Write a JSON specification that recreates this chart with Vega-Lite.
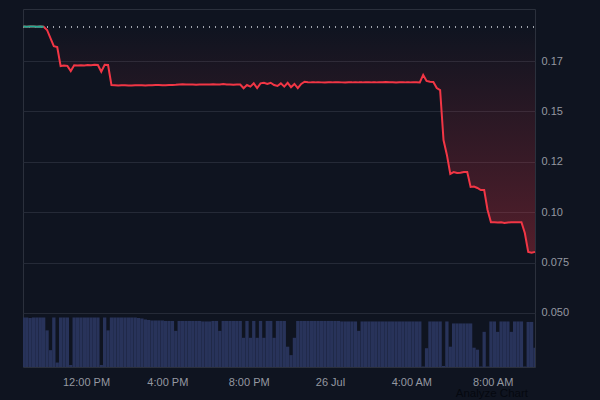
{
  "$schema": "https://vega.github.io/schema/vega-lite/v6.json",
  "autosize": {"type": "none"},
  "width": 512,
  "height": 358,
  "padding": {"left": 23, "top": 9, "right": 65, "bottom": 33},
  "background": "#0f1420",
  "title": {
    "text": "Analyze Chart",
    "orient": "bottom",
    "anchor": "end",
    "frame": "group",
    "offset": 1,
    "dx": -7,
    "fontSize": 11.5,
    "fontWeight": "normal",
    "font": "Liberation Sans",
    "color": "#05080f"
  },
  "config": {
    "view": {"stroke": "#2b303c"},
    "axis": {
      "labelFont": "Liberation Sans",
      "labelFontSize": 11,
      "labelColor": "#9598a1",
      "domain": false,
      "ticks": false,
      "title": null
    }
  },
  "data": {
    "values": [
      {"t": "2024-07-25T08:55Z", "p": 0.1921, "v": 100},
      {"t": "2024-07-25T09:05Z", "p": 0.1920, "v": 100},
      {"t": "2024-07-25T09:15Z", "p": 0.1921, "v": 99},
      {"t": "2024-07-25T09:25Z", "p": 0.1921, "v": 100},
      {"t": "2024-07-25T09:35Z", "p": 0.1920, "v": 100},
      {"t": "2024-07-25T09:45Z", "p": 0.1921, "v": 100},
      {"t": "2024-07-25T09:55Z", "p": 0.1920, "v": 100},
      {"t": "2024-07-25T10:05Z", "p": 0.1904, "v": 74},
      {"t": "2024-07-25T10:15Z", "p": 0.1864, "v": 34},
      {"t": "2024-07-25T10:25Z", "p": 0.1824, "v": 100},
      {"t": "2024-07-25T10:35Z", "p": 0.1819, "v": 9},
      {"t": "2024-07-25T10:45Z", "p": 0.1725, "v": 100},
      {"t": "2024-07-25T10:55Z", "p": 0.1728, "v": 100},
      {"t": "2024-07-25T11:05Z", "p": 0.1726, "v": 100},
      {"t": "2024-07-25T11:15Z", "p": 0.1700, "v": 4},
      {"t": "2024-07-25T11:25Z", "p": 0.1729, "v": 100},
      {"t": "2024-07-25T11:35Z", "p": 0.1728, "v": 100},
      {"t": "2024-07-25T11:45Z", "p": 0.1729, "v": 100},
      {"t": "2024-07-25T11:55Z", "p": 0.1728, "v": 100},
      {"t": "2024-07-25T12:05Z", "p": 0.1730, "v": 100},
      {"t": "2024-07-25T12:15Z", "p": 0.1729, "v": 100},
      {"t": "2024-07-25T12:25Z", "p": 0.1731, "v": 100},
      {"t": "2024-07-25T12:35Z", "p": 0.1730, "v": 100},
      {"t": "2024-07-25T12:45Z", "p": 0.1697, "v": 4},
      {"t": "2024-07-25T12:55Z", "p": 0.1731, "v": 100},
      {"t": "2024-07-25T13:05Z", "p": 0.1730, "v": 74},
      {"t": "2024-07-25T13:15Z", "p": 0.1631, "v": 100},
      {"t": "2024-07-25T13:25Z", "p": 0.1630, "v": 100},
      {"t": "2024-07-25T13:35Z", "p": 0.1629, "v": 100},
      {"t": "2024-07-25T13:45Z", "p": 0.1630, "v": 100},
      {"t": "2024-07-25T13:55Z", "p": 0.1630, "v": 100},
      {"t": "2024-07-25T14:05Z", "p": 0.1629, "v": 100},
      {"t": "2024-07-25T14:15Z", "p": 0.1629, "v": 100},
      {"t": "2024-07-25T14:25Z", "p": 0.1630, "v": 100},
      {"t": "2024-07-25T14:35Z", "p": 0.1630, "v": 99},
      {"t": "2024-07-25T14:45Z", "p": 0.1630, "v": 98},
      {"t": "2024-07-25T14:55Z", "p": 0.1629, "v": 96},
      {"t": "2024-07-25T15:05Z", "p": 0.1630, "v": 95},
      {"t": "2024-07-25T15:15Z", "p": 0.1630, "v": 94},
      {"t": "2024-07-25T15:25Z", "p": 0.1631, "v": 94},
      {"t": "2024-07-25T15:35Z", "p": 0.1631, "v": 94},
      {"t": "2024-07-25T15:45Z", "p": 0.1630, "v": 94},
      {"t": "2024-07-25T15:55Z", "p": 0.1630, "v": 93},
      {"t": "2024-07-25T16:05Z", "p": 0.1631, "v": 93},
      {"t": "2024-07-25T16:15Z", "p": 0.1631, "v": 93},
      {"t": "2024-07-25T16:25Z", "p": 0.1632, "v": 73},
      {"t": "2024-07-25T16:35Z", "p": 0.1634, "v": 93},
      {"t": "2024-07-25T16:45Z", "p": 0.1635, "v": 93},
      {"t": "2024-07-25T16:55Z", "p": 0.1634, "v": 93},
      {"t": "2024-07-25T17:05Z", "p": 0.1633, "v": 93},
      {"t": "2024-07-25T17:15Z", "p": 0.1633, "v": 93},
      {"t": "2024-07-25T17:25Z", "p": 0.1632, "v": 93},
      {"t": "2024-07-25T17:35Z", "p": 0.1633, "v": 93},
      {"t": "2024-07-25T17:45Z", "p": 0.1634, "v": 92},
      {"t": "2024-07-25T17:55Z", "p": 0.1633, "v": 92},
      {"t": "2024-07-25T18:05Z", "p": 0.1634, "v": 92},
      {"t": "2024-07-25T18:15Z", "p": 0.1635, "v": 93},
      {"t": "2024-07-25T18:25Z", "p": 0.1634, "v": 93},
      {"t": "2024-07-25T18:35Z", "p": 0.1634, "v": 73},
      {"t": "2024-07-25T18:45Z", "p": 0.1636, "v": 93},
      {"t": "2024-07-25T18:55Z", "p": 0.1634, "v": 93},
      {"t": "2024-07-25T19:05Z", "p": 0.1633, "v": 93},
      {"t": "2024-07-25T19:15Z", "p": 0.1632, "v": 93},
      {"t": "2024-07-25T19:25Z", "p": 0.1634, "v": 93},
      {"t": "2024-07-25T19:35Z", "p": 0.1633, "v": 93},
      {"t": "2024-07-25T19:45Z", "p": 0.1615, "v": 59},
      {"t": "2024-07-25T19:55Z", "p": 0.1631, "v": 93},
      {"t": "2024-07-25T20:05Z", "p": 0.1623, "v": 59},
      {"t": "2024-07-25T20:15Z", "p": 0.1639, "v": 93},
      {"t": "2024-07-25T20:25Z", "p": 0.1616, "v": 59},
      {"t": "2024-07-25T20:35Z", "p": 0.1639, "v": 93},
      {"t": "2024-07-25T20:45Z", "p": 0.1642, "v": 59},
      {"t": "2024-07-25T20:55Z", "p": 0.1636, "v": 93},
      {"t": "2024-07-25T21:05Z", "p": 0.1642, "v": 93},
      {"t": "2024-07-25T21:15Z", "p": 0.1631, "v": 59},
      {"t": "2024-07-25T21:25Z", "p": 0.1626, "v": 93},
      {"t": "2024-07-25T21:35Z", "p": 0.1639, "v": 93},
      {"t": "2024-07-25T21:45Z", "p": 0.1623, "v": 93},
      {"t": "2024-07-25T21:55Z", "p": 0.1642, "v": 41},
      {"t": "2024-07-25T22:05Z", "p": 0.1620, "v": 24},
      {"t": "2024-07-25T22:15Z", "p": 0.1636, "v": 59},
      {"t": "2024-07-25T22:25Z", "p": 0.1615, "v": 93},
      {"t": "2024-07-25T22:35Z", "p": 0.1636, "v": 93},
      {"t": "2024-07-25T22:45Z", "p": 0.1647, "v": 93},
      {"t": "2024-07-25T22:55Z", "p": 0.1645, "v": 93},
      {"t": "2024-07-25T23:05Z", "p": 0.1644, "v": 93},
      {"t": "2024-07-25T23:15Z", "p": 0.1644, "v": 93},
      {"t": "2024-07-25T23:25Z", "p": 0.1645, "v": 93},
      {"t": "2024-07-25T23:35Z", "p": 0.1644, "v": 93},
      {"t": "2024-07-25T23:45Z", "p": 0.1643, "v": 93},
      {"t": "2024-07-25T23:55Z", "p": 0.1644, "v": 93},
      {"t": "2024-07-26T00:05Z", "p": 0.1644, "v": 93},
      {"t": "2024-07-26T00:15Z", "p": 0.1645, "v": 93},
      {"t": "2024-07-26T00:25Z", "p": 0.1645, "v": 93},
      {"t": "2024-07-26T00:35Z", "p": 0.1644, "v": 92},
      {"t": "2024-07-26T00:45Z", "p": 0.1643, "v": 92},
      {"t": "2024-07-26T00:55Z", "p": 0.1644, "v": 92},
      {"t": "2024-07-26T01:05Z", "p": 0.1644, "v": 92},
      {"t": "2024-07-26T01:15Z", "p": 0.1645, "v": 92},
      {"t": "2024-07-26T01:25Z", "p": 0.1644, "v": 73},
      {"t": "2024-07-26T01:35Z", "p": 0.1644, "v": 92},
      {"t": "2024-07-26T01:45Z", "p": 0.1645, "v": 92},
      {"t": "2024-07-26T01:55Z", "p": 0.1645, "v": 92},
      {"t": "2024-07-26T02:05Z", "p": 0.1644, "v": 92},
      {"t": "2024-07-26T02:15Z", "p": 0.1644, "v": 92},
      {"t": "2024-07-26T02:25Z", "p": 0.1645, "v": 92},
      {"t": "2024-07-26T02:35Z", "p": 0.1645, "v": 92},
      {"t": "2024-07-26T02:45Z", "p": 0.1646, "v": 92},
      {"t": "2024-07-26T02:55Z", "p": 0.1645, "v": 92},
      {"t": "2024-07-26T03:05Z", "p": 0.1645, "v": 92},
      {"t": "2024-07-26T03:15Z", "p": 0.1644, "v": 92},
      {"t": "2024-07-26T03:25Z", "p": 0.1645, "v": 92},
      {"t": "2024-07-26T03:35Z", "p": 0.1645, "v": 92},
      {"t": "2024-07-26T03:45Z", "p": 0.1644, "v": 92},
      {"t": "2024-07-26T03:55Z", "p": 0.1644, "v": 92},
      {"t": "2024-07-26T04:05Z", "p": 0.1645, "v": 92},
      {"t": "2024-07-26T04:15Z", "p": 0.1645, "v": 92},
      {"t": "2024-07-26T04:25Z", "p": 0.1644, "v": 92},
      {"t": "2024-07-26T04:35Z", "p": 0.1681, "v": 1},
      {"t": "2024-07-26T04:45Z", "p": 0.1651, "v": 38},
      {"t": "2024-07-26T04:55Z", "p": 0.1647, "v": 92},
      {"t": "2024-07-26T05:05Z", "p": 0.1646, "v": 92},
      {"t": "2024-07-26T05:15Z", "p": 0.1616, "v": 92},
      {"t": "2024-07-26T05:25Z", "p": 0.1606, "v": 92},
      {"t": "2024-07-26T05:35Z", "p": 0.1358, "v": 2},
      {"t": "2024-07-26T05:45Z", "p": 0.1284, "v": 92},
      {"t": "2024-07-26T05:55Z", "p": 0.1190, "v": 41},
      {"t": "2024-07-26T06:05Z", "p": 0.1199, "v": 88},
      {"t": "2024-07-26T06:15Z", "p": 0.1194, "v": 88},
      {"t": "2024-07-26T06:25Z", "p": 0.1196, "v": 88},
      {"t": "2024-07-26T06:35Z", "p": 0.1199, "v": 88},
      {"t": "2024-07-26T06:45Z", "p": 0.1199, "v": 88},
      {"t": "2024-07-26T06:55Z", "p": 0.1125, "v": 88},
      {"t": "2024-07-26T07:05Z", "p": 0.1127, "v": 39},
      {"t": "2024-07-26T07:15Z", "p": 0.1120, "v": 35},
      {"t": "2024-07-26T07:25Z", "p": 0.1110, "v": 1},
      {"t": "2024-07-26T07:35Z", "p": 0.1110, "v": 71},
      {"t": "2024-07-26T07:45Z", "p": 0.1011, "v": 1},
      {"t": "2024-07-26T07:55Z", "p": 0.0950, "v": 92},
      {"t": "2024-07-26T08:05Z", "p": 0.0950, "v": 92},
      {"t": "2024-07-26T08:15Z", "p": 0.0949, "v": 71},
      {"t": "2024-07-26T08:25Z", "p": 0.0950, "v": 92},
      {"t": "2024-07-26T08:35Z", "p": 0.0946, "v": 92},
      {"t": "2024-07-26T08:45Z", "p": 0.0949, "v": 92},
      {"t": "2024-07-26T08:55Z", "p": 0.0950, "v": 71},
      {"t": "2024-07-26T09:05Z", "p": 0.0950, "v": 92},
      {"t": "2024-07-26T09:15Z", "p": 0.0950, "v": 92},
      {"t": "2024-07-26T09:25Z", "p": 0.0950, "v": 92},
      {"t": "2024-07-26T09:35Z", "p": 0.0897, "v": 1},
      {"t": "2024-07-26T09:45Z", "p": 0.0803, "v": 91},
      {"t": "2024-07-26T09:55Z", "p": 0.0799, "v": 91},
      {"t": "2024-07-26T10:05Z", "p": 0.0803, "v": 39}
    ]
  },
  "encoding": {
    "x": {
      "field": "t",
      "type": "temporal",
      "scale": {
        "type": "utc",
        "nice": false,
        "padding": 0,
        "domain": [
          {"year": 2024, "month": 7, "date": 25, "hours": 8, "minutes": 54, "utc": true},
          {"year": 2024, "month": 7, "date": 26, "hours": 10, "minutes": 5, "utc": true}
        ]
      },
      "axis": {
        "grid": false,
        "labelPadding": 9,
        "values": [
          {"year": 2024, "month": 7, "date": 25, "hours": 12, "utc": true},
          {"year": 2024, "month": 7, "date": 25, "hours": 16, "utc": true},
          {"year": 2024, "month": 7, "date": 25, "hours": 20, "utc": true},
          {"year": 2024, "month": 7, "date": 26, "hours": 0, "utc": true},
          {"year": 2024, "month": 7, "date": 26, "hours": 4, "utc": true},
          {"year": 2024, "month": 7, "date": 26, "hours": 8, "utc": true}
        ],
        "labelExpr": "utchours(datum.value) == 0 ? utcFormat(datum.value, '%-d %b') : utcFormat(datum.value, '%-I:%M %p')"
      }
    }
  },
  "layer": [
    {
      "mark": {"type": "bar", "width": 3.3, "color": "#28335a", "clip": true},
      "encoding": {
        "y": {"field": "v", "type": "quantitative", "scale": {"domain": [0, 723]}, "axis": null}
      }
    },
    {
      "encoding": {
        "y": {
          "field": "p",
          "type": "quantitative",
          "scale": {"domain": [0.0232, 0.2008], "nice": false, "zero": false},
          "axis": {
            "orient": "right",
            "grid": true,
            "gridColor": "#252a37",
            "labelPadding": 6,
            "labelAlign": "left",
            "values": [0.05, 0.075, 0.1, 0.125, 0.15, 0.175],
            "labelExpr": "datum.value < 0.06 ? '0.050' : datum.value < 0.08 ? '0.075' : datum.value < 0.11 ? '0.10' : datum.value < 0.13 ? '0.12' : datum.value < 0.16 ? '0.15' : '0.17'"
          }
        }
      },
      "layer": [
        {
          "mark": {
            "type": "area",
            "color": {
              "gradient": "linear",
              "x1": 0, "y1": 0, "x2": 0, "y2": 1,
              "stops": [
                {"offset": 0, "color": "rgba(242,54,69,0.0)"},
                {"offset": 1, "color": "rgba(242,54,69,0.30)"}
              ]
            }
          },
          "encoding": {"y2": {"datum": 0.1919}}
        },
        {
          "mark": {"type": "rule", "color": "#a3a6af", "strokeDash": [1, 5], "strokeWidth": 1},
          "encoding": {"y": {"datum": 0.1919}, "x": {"value": 0}, "x2": {"value": 512}}
        },
        {
          "mark": {"type": "line", "color": "#f23645", "strokeWidth": 2}
        },
        {
          "transform": [{"filter": "datum.p >= 0.1919"}],
          "mark": {"type": "line", "color": "#22ab94", "strokeWidth": 2}
        }
      ]
    }
  ],
  "resolve": {"scale": {"y": "independent"}}
}
